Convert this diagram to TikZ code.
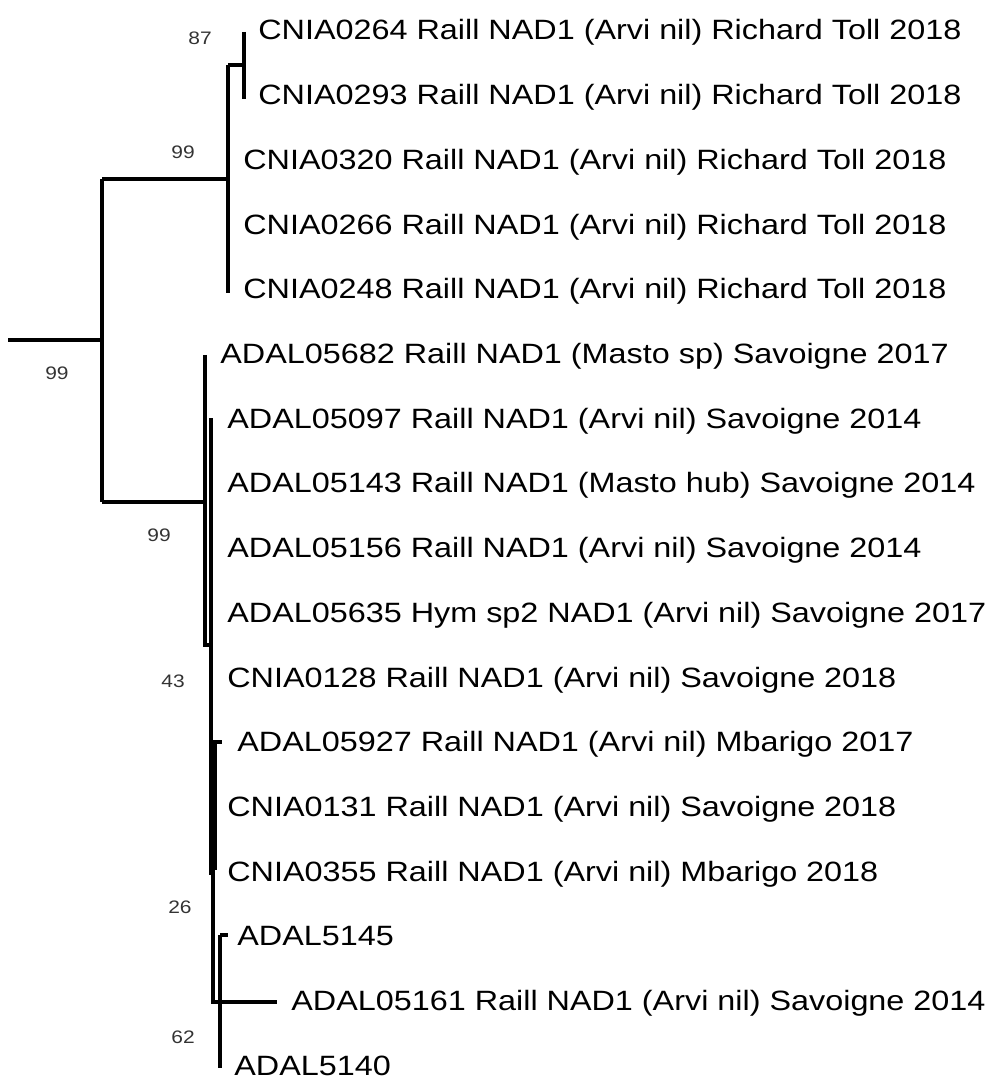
\documentclass[tikz,border=0pt]{standalone}
\usepackage{fontspec}
\newfontfamily\treefont[FakeStretch=1.158]{Liberation Sans}
\usetikzlibrary{calc}

\begin{document}
\begin{tikzpicture}[x=0.2mm,y=-0.2mm,
  treeline/.style={line width=2pt},
  taxon/.style={anchor=base west,inner sep=0pt,
    font=\treefont\fontsize{15.9}{18}\selectfont},
  support/.style={inner sep=0pt,text=black!80,
    font=\treefont\fontsize{10.3}{12}\selectfont}]
  \useasboundingbox (0,0) rectangle (993,1080);

  % Taxon labels, one row each; zero-length tips have no branch.
  \foreach \i/\x/\name in {
      1/258/CNIA0264 Raill NAD1 (Arvi nil) Richard Toll 2018,
      2/258/CNIA0293 Raill NAD1 (Arvi nil) Richard Toll 2018,
      3/243/CNIA0320 Raill NAD1 (Arvi nil) Richard Toll 2018,
      4/243/CNIA0266 Raill NAD1 (Arvi nil) Richard Toll 2018,
      5/243/CNIA0248 Raill NAD1 (Arvi nil) Richard Toll 2018,
      6/220/ADAL05682 Raill NAD1 (Masto sp) Savoigne 2017,
      7/227/ADAL05097 Raill NAD1 (Arvi nil) Savoigne 2014,
      8/227/ADAL05143 Raill NAD1 (Masto hub) Savoigne 2014,
      9/227/ADAL05156 Raill NAD1 (Arvi nil) Savoigne 2014,
      10/227/ADAL05635 Hym sp2 NAD1 (Arvi nil) Savoigne 2017,
      11/227/CNIA0128 Raill NAD1 (Arvi nil) Savoigne 2018,
      12/237/ADAL05927 Raill NAD1 (Arvi nil) Mbarigo 2017,
      13/227/CNIA0131 Raill NAD1 (Arvi nil) Savoigne 2018,
      14/227/CNIA0355 Raill NAD1 (Arvi nil) Mbarigo 2018,
      15/237/ADAL5145,
      16/291/ADAL05161 Raill NAD1 (Arvi nil) Savoigne 2014,
      17/234/ADAL5140}
    \node[taxon] (t\i) at (\x,{40+64.7*(\i-1)}) {\name};

  % Internal nodes of the tree.
  \coordinate (r) at (8,340);
  \coordinate (n0) at (102,340);
  \coordinate (nA) at (228,179);   % Richard Toll clade
  \coordinate (nA1) at (244,65);
  \coordinate (nB) at (205,502);   % Savoigne / Mbarigo clade
  \coordinate (nB1) at (211,645);
  \coordinate (nB2) at (213,873);
  \coordinate (nB3) at (220,1002);

  % Branches.
  \draw[treeline] (r) -- (n0);
  \draw[treeline] (n0 |- nA) -- (n0 |- nB);
  \draw[treeline] (n0 |- nA) -- (nA);
  \draw[treeline] (228,65) -- (228,293);
  \draw[treeline] (228,65) -- (nA1);
  \draw[treeline] (244,32) -- (244,99);
  \draw[treeline] (n0 |- nB) -- (nB);
  \draw[treeline] (205,355) -- (205,645) -- (nB1);
  \draw[treeline] (211,418) -- (211,873) -- (nB2);
  \draw[treeline] (213,742) -- (213,1002) -- (277,1002);
  \draw[treeline] (213,742) -- (222,742);
  \draw[treeline] (215,742) -- (215,870);
  \draw[treeline] (nB3 |- 0,935) -- (nB3 |- 0,1068);
  \draw[treeline] (nB3 |- 0,935) -- (228,935);

  % Bootstrap support values.
  \node[support] (b87) at (200,38) {87};
  \node[support] (b99a) at (183,152) {99};
  \node[support] (b99r) at (57,373) {99};
  \node[support] (b99b) at (159,535) {99};
  \node[support] (b43) at (173,681) {43};
  \node[support] (b26) at (180,907) {26};
  \node[support] (b62) at (183,1037) {62};
\end{tikzpicture}
\end{document}
